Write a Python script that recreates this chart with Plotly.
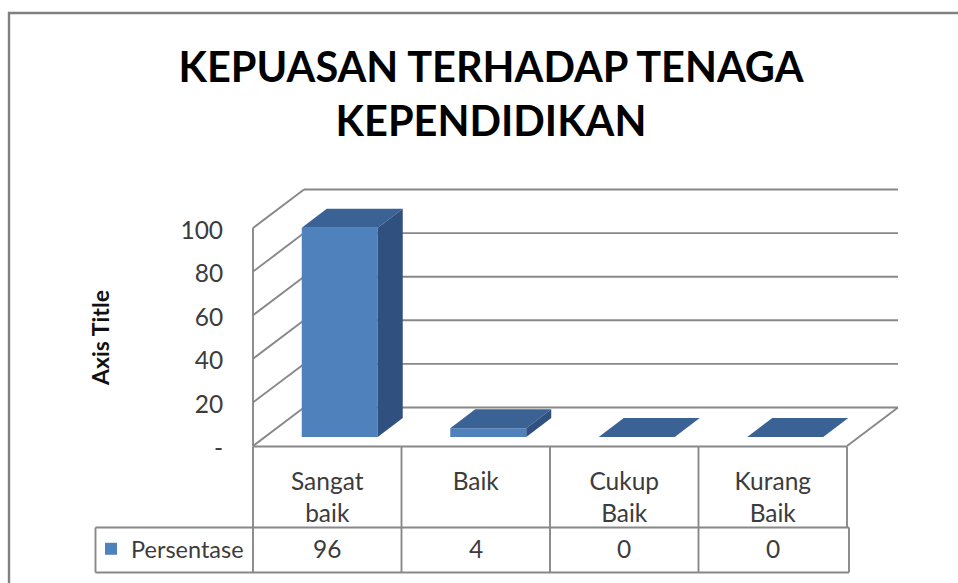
import plotly.graph_objects as go

# ---- data ----
categories = ["Sangat<br>baik", "Baik", "Cukup<br>Baik", "Kurang<br>Baik"]
series_name = "Persentase"
values = [96, 4, 0, 0]
y_ticks = [0, 20, 40, 60, 80, 100]
y_tick_labels = ["-", "20", "40", "60", "80", "100"]
title_text = "KEPUASAN TERHADAP TENAGA<br>KEPENDIDIKAN"
axis_title = "Axis Title"

# ---- geometry: scale of the axes in the 958x583 picture ----
W, H = 958, 583
X0, CAT_W = 253, 148.5
Y0, PX_UNIT = 446, 2.18
def xp(px): return (px - X0) / CAT_W
def yp(px): return (Y0 - px) / PX_UNIT
WALL_DX, WALL_DY = 51 / CAT_W, 38.5 / PX_UNIT
BAR_W = 76 / CAT_W
BAR_OX, BAR_OY = 12.5 / CAT_W, 9 / PX_UNIT
BAR_DX, BAR_DY = 25 / CAT_W, 19 / PX_UNIT
N = len(categories)

FRONT, TOP, SIDE = "#4F81BD", "#3A6294", "#30517F"
GRID, FRAME, TEXT = "#888888", "#808080", "#3C3C3C"
FONT = "Lato"
FS = 24.5

fig = go.Figure()
centers = [i + 0.5 for i in range(N)]

# bar fronts
fig.add_trace(go.Bar(
    x=[c + BAR_OX for c in centers], y=values,
    base=[BAR_OY] * N, width=BAR_W, name=series_name,
    marker=dict(color=FRONT, line=dict(width=0)), showlegend=True))

# bar top and side faces, computed from the values
for c, v in zip(centers, values):
    l = c + BAR_OX - BAR_W / 2
    r = c + BAR_OX + BAR_W / 2
    t = BAR_OY + v
    b = BAR_OY
    fig.add_trace(go.Scatter(
        x=[l, r, r + BAR_DX, l + BAR_DX, l], y=[t, t, t + BAR_DY, t + BAR_DY, t],
        mode="lines", fill="toself", fillcolor=TOP, line=dict(width=0),
        showlegend=False, hoverinfo="skip"))
    if v > 0:
        fig.add_trace(go.Scatter(
            x=[r, r + BAR_DX, r + BAR_DX, r, r], y=[b, b + BAR_DY, t + BAR_DY, t, b],
            mode="lines", fill="toself", fillcolor=SIDE, line=dict(width=0),
            showlegend=False, hoverinfo="skip"))

# walls, floor, gridlines (behind the bars)
def seg(x0, y0, x1, y1, color=GRID, width=1.9, layer="below"):
    return dict(type="line", xref="x", yref="y", x0=x0, y0=y0, x1=x1, y1=y1,
                layer=layer, line=dict(color=color, width=width))

shapes = []
for t in y_ticks:
    shapes.append(seg(0, t, WALL_DX, t + WALL_DY))
    shapes.append(seg(WALL_DX, t + WALL_DY, N + WALL_DX, t + WALL_DY))
shapes.append(seg(0, 0, 0, y_ticks[-1]))
shapes.append(seg(N, 0, N + WALL_DX, WALL_DY))

# data table
rows = [yp(446.5), yp(527.5), yp(572.5)]
for i in range(N + 1):
    shapes.append(seg(i, rows[0], i, rows[1]))
    if i < N:
        shapes.append(seg(i, rows[1], i, rows[2]))
shapes.append(seg(0, rows[0], N, rows[0]))
shapes.append(seg(xp(95.5), rows[1], xp(849), rows[1]))
shapes.append(seg(xp(95.5), rows[2], xp(849), rows[2]))
shapes.append(seg(xp(95.5), rows[1], xp(95.5), rows[2]))
shapes.append(seg(xp(849), rows[1], xp(849), rows[2]))

# outer frame of the chart
shapes.append(dict(type="path", xref="paper", yref="paper",
                   path=f"M {9/W} 0 L {9/W} {1-13/H} L 1 {1-13/H}",
                   line=dict(color=FRAME, width=2.4), layer="below"))

annotations = [
    dict(xref="x", yref="y", x=c, y=yp(548.5), text=str(v), showarrow=False,
         xanchor="center", yanchor="middle",
         font=dict(family=FONT, size=FS, color=TEXT))
    for c, v in zip(centers, values)
]
annotations.append(dict(
    xref="paper", yref="paper", x=100 / W, y=1 - 338 / H, text=f"<b>{axis_title}</b>",
    textangle=-90, showarrow=False, xanchor="center", yanchor="middle",
    font=dict(family=FONT, size=23, color="#111111")))

fig.update_layout(
    width=W, height=H, autosize=False,
    margin=dict(l=0, r=0, t=0, b=0),
    paper_bgcolor="white", plot_bgcolor="rgba(0,0,0,0)",
    font=dict(family=FONT, size=FS, color=TEXT),
    title=dict(text=f"<b>{title_text}</b>", x=491 / W, xanchor="center",
               y=1 - 82 / H, yanchor="middle",
               font=dict(family=FONT, size=41.5, color="#000000")),
    xaxis=dict(range=[xp(0), xp(W)], anchor="free", position=1 - Y0 / H,
               showgrid=False, zeroline=False, showline=False,
               tickmode="array", tickvals=centers, ticktext=categories,
               ticks="outside", ticklen=14, tickcolor="rgba(0,0,0,0)",
               tickfont=dict(family=FONT, size=FS, color=TEXT)),
    yaxis=dict(range=[yp(H), yp(0)], anchor="free", position=X0 / W,
               showgrid=False, zeroline=False, showline=False,
               tickmode="array", tickvals=y_ticks, ticktext=y_tick_labels,
               ticks="outside", ticklen=25, tickcolor="rgba(0,0,0,0)",
               ticklabelshift=2,
               tickfont=dict(family=FONT, size=FS, color=TEXT)),
    legend=dict(x=91 / W, xanchor="left", y=1 - 549 / H, yanchor="middle",
                bgcolor="rgba(0,0,0,0)", borderwidth=0,
                font=dict(family=FONT, size=23.5, color=TEXT)),
    shapes=shapes, annotations=annotations,
)

fig.write_html("out.html", config={"displayModeBar": False},
               post_script="document.body.style.margin='0';")
